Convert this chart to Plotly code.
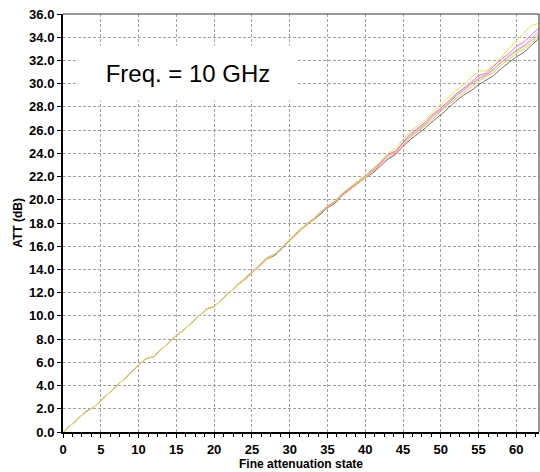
import plotly.graph_objects as go

# Fine attenuation states 0..63
states = list(range(64))

# Measured attenuation (dB) at 10 GHz, one list per sample
att_yellow = [0.0, 0.55, 1.15, 1.8, 2.1, 2.7, 3.3, 3.9, 4.5, 5.1,
              5.8, 6.3, 6.5, 7.1, 7.7, 8.3, 8.8, 9.4, 10.0, 10.6,
              10.8, 11.4, 12.0, 12.6, 13.2, 13.8, 14.4, 15.0, 15.3, 15.9,
              16.6, 17.2, 17.8, 18.3, 18.9, 19.5, 19.9, 20.6, 21.1, 21.6,
              22.1, 22.7, 23.3, 24.0, 24.4, 25.2, 25.9, 26.4, 26.9, 27.6,
              28.2, 28.8, 29.4, 29.9, 30.5, 31.1, 31.1, 31.6, 32.3, 33.0,
              33.7, 34.4, 35.0, 35.2]
att_magenta = [0.0, 0.55, 1.15, 1.75, 2.1, 2.7, 3.3, 3.9, 4.5, 5.1,
               5.8, 6.3, 6.5, 7.1, 7.7, 8.3, 8.8, 9.4, 10.0, 10.6,
               10.8, 11.4, 12.0, 12.6, 13.2, 13.8, 14.4, 15.0, 15.3, 15.9,
               16.6, 17.2, 17.8, 18.3, 18.9, 19.4, 19.9, 20.5, 21.0, 21.6,
               22.1, 22.6, 23.2, 23.9, 24.2, 25.0, 25.7, 26.2, 26.7, 27.4,
               27.9, 28.5, 29.1, 29.6, 30.1, 30.7, 30.9, 31.5, 32.1, 32.6,
               33.2, 33.6, 34.2, 34.8]
att_pink = [0.0, 0.55, 1.15, 1.75, 2.1, 2.7, 3.3, 3.9, 4.5, 5.1,
            5.8, 6.3, 6.5, 7.1, 7.7, 8.3, 8.8, 9.4, 10.0, 10.6,
            10.8, 11.4, 12.0, 12.6, 13.2, 13.7, 14.3, 15.0, 15.3, 15.9,
            16.6, 17.2, 17.8, 18.3, 18.8, 19.4, 19.8, 20.5, 21.0, 21.5,
            22.0, 22.5, 23.1, 23.8, 24.1, 24.9, 25.6, 26.1, 26.6, 27.3,
            27.8, 28.4, 29.0, 29.5, 30.0, 30.5, 30.8, 31.3, 31.9, 32.4,
            32.9, 33.3, 33.9, 34.5]
att_green = [0.0, 0.55, 1.15, 1.75, 2.1, 2.7, 3.3, 3.9, 4.5, 5.1,
             5.8, 6.3, 6.5, 7.1, 7.7, 8.3, 8.8, 9.4, 10.0, 10.6,
             10.8, 11.4, 12.0, 12.6, 13.2, 13.7, 14.3, 15.0, 15.3, 15.9,
             16.6, 17.2, 17.8, 18.3, 18.8, 19.4, 19.8, 20.5, 21.0, 21.5,
             22.0, 22.5, 23.1, 23.8, 24.1, 24.9, 25.5, 26.0, 26.5, 27.2,
             27.7, 28.3, 28.9, 29.4, 29.9, 30.4, 30.7, 31.2, 31.8, 32.3,
             32.8, 33.2, 33.7, 34.3]
att_orange = [0.0, 0.55, 1.15, 1.75, 2.1, 2.7, 3.3, 3.9, 4.5, 5.1,
              5.8, 6.3, 6.5, 7.1, 7.7, 8.3, 8.8, 9.4, 10.0, 10.6,
              10.8, 11.4, 12.0, 12.6, 13.1, 13.7, 14.3, 14.9, 15.3, 15.9,
              16.5, 17.1, 17.7, 18.2, 18.8, 19.3, 19.8, 20.4, 20.9, 21.4,
              21.9, 22.4, 23.0, 23.6, 24.0, 24.7, 25.4, 25.9, 26.4, 27.0,
              27.6, 28.2, 28.7, 29.2, 29.7, 30.2, 30.6, 31.0, 31.6, 32.1,
              32.6, 33.0, 33.5, 34.1]
att_gray = [0.0, 0.55, 1.15, 1.75, 2.1, 2.7, 3.3, 3.9, 4.5, 5.1,
            5.8, 6.3, 6.5, 7.1, 7.7, 8.3, 8.8, 9.4, 10.0, 10.6,
            10.8, 11.4, 12.0, 12.6, 13.1, 13.7, 14.3, 14.9, 15.2, 15.8,
            16.5, 17.1, 17.7, 18.2, 18.7, 19.3, 19.7, 20.4, 20.9, 21.4,
            21.9, 22.3, 22.9, 23.5, 23.9, 24.6, 25.2, 25.7, 26.2, 26.8,
            27.3, 27.9, 28.5, 29.0, 29.4, 29.9, 30.3, 30.7, 31.3, 31.8,
            32.3, 32.7, 33.3, 33.9]

# drawn bottom to top, yellow ends up on top like the original
series = [
    (att_gray, "#6e6e6e"),
    (att_orange, "#ffb070"),
    (att_green, "#77e077"),
    (att_pink, "#ffa0c8"),
    (att_magenta, "#ff66d8"),
    (att_yellow, "#d4f03c"),
]

fig = go.Figure()
for values, color in series:
    fig.add_trace(go.Scatter(
        x=states,
        y=values,
        mode="lines",
        line=dict(color=color, width=1),
        showlegend=False,
        hoverinfo="skip",
    ))

axis_font = dict(family="Arial, Liberation Sans", size=13, color="black", weight="bold")
title_font = dict(family="Arial, Liberation Sans", size=12, color="black", weight="bold")

fig.update_xaxes(
    range=[0, 63],
    tick0=0,
    dtick=5,
    ticks="outside",
    ticklen=4,
    tickwidth=1,
    tickcolor="black",
    tickfont=axis_font,
    showgrid=True,
    gridcolor="#a0a0a0",
    griddash="3px,2px",
    gridwidth=1,
    showline=True,
    linecolor="black",
    linewidth=2,
    zeroline=False,
    minor=dict(dtick=1.25, ticks="outside", ticklen=3, tickcolor="black", showgrid=False),
    title=dict(text="Fine attenuation state", font=title_font, standoff=1),
)
fig.update_yaxes(
    range=[0, 36],
    tick0=0,
    dtick=2,
    tickformat=".1f",
    ticks="outside",
    ticklen=4,
    tickwidth=1,
    tickcolor="black",
    tickfont=axis_font,
    showgrid=True,
    gridcolor="#a0a0a0",
    griddash="3px,2px",
    gridwidth=1,
    showline=True,
    linecolor="black",
    linewidth=2,
    zeroline=False,
    title=dict(text="ATT (dB)", font=title_font, standoff=4),
)

# thin frame on top and right
fig.add_shape(type="line", xref="x domain", yref="y domain",
              x0=0, x1=1, y0=1, y1=1, line=dict(color="#333333", width=1))
fig.add_shape(type="line", xref="x domain", yref="y domain",
              x0=1, x1=1, y0=0, y1=1, line=dict(color="#333333", width=1))

fig.add_annotation(
    x=16.5,
    y=30.9,
    xref="x",
    yref="y",
    text="Freq. = 10 GHz",
    showarrow=False,
    font=dict(family="Arial, Liberation Sans", size=24, color="black"),
    bgcolor="white",
    width=216,
    height=52,
)

fig.update_layout(
    width=540,
    height=472,
    margin=dict(l=63, r=1, t=14, b=40),
    plot_bgcolor="white",
    paper_bgcolor="white",
)

# drop the default page margin so the 540x472 figure fills the window
fig.write_html(
    "out.html",
    config={"displayModeBar": False},
    post_script="document.body.style.margin='0';",
)
